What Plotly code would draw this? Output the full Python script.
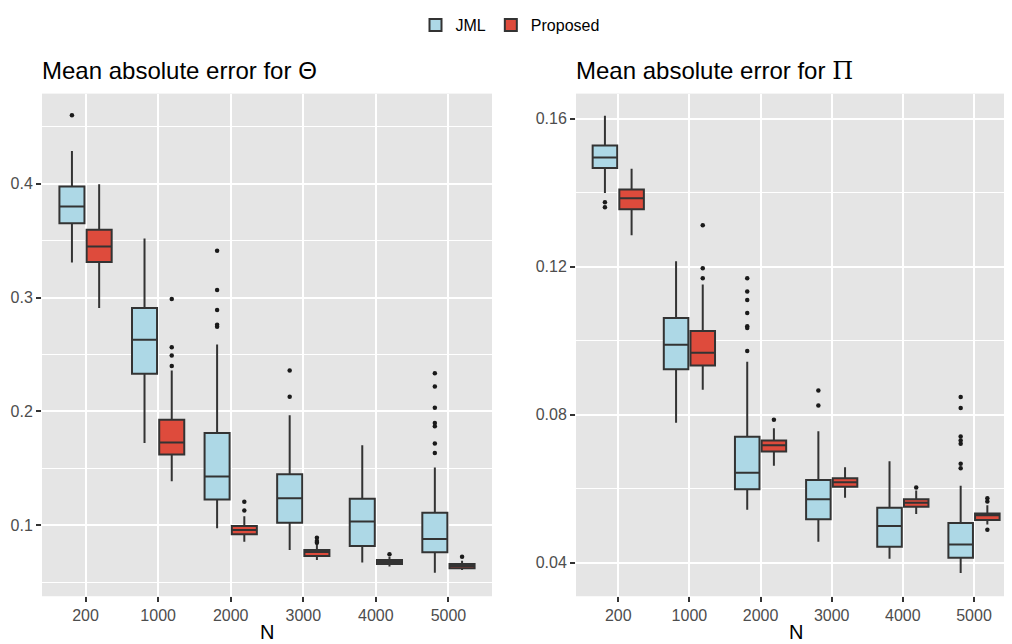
import plotly.graph_objects as go

categories = ["200", "1000", "2000", "3000", "4000", "5000"]
series_names = ["JML", "Proposed"]

# ---- Mean absolute error for Theta ----
theta_jml_q1 = [0.3653, 0.2331, 0.1228, 0.1024, 0.0819, 0.0763]
theta_jml_med = [0.3800, 0.2629, 0.1429, 0.1237, 0.1035, 0.0880]
theta_jml_q3 = [0.3974, 0.2909, 0.1811, 0.1449, 0.1233, 0.1110]
theta_jml_lo = [0.3308, 0.1723, 0.0974, 0.0784, 0.0673, 0.0585]
theta_jml_hi = [0.4286, 0.3518, 0.2588, 0.1966, 0.1703, 0.1508]
theta_jml_out = [[0.460], [], [0.341, 0.3066, 0.2891, 0.2760, 0.2743],
                 [0.236, 0.213], [], [0.2336, 0.2220, 0.2033, 0.1898, 0.1870, 0.1718, 0.1636]]

theta_prop_q1 = [0.3312, 0.1622, 0.0921, 0.0732, 0.0661, 0.0624]
theta_prop_med = [0.3448, 0.1727, 0.0959, 0.0767, 0.0679, 0.0644]
theta_prop_q3 = [0.3595, 0.1928, 0.0994, 0.0784, 0.0696, 0.0661]
theta_prop_lo = [0.2909, 0.1388, 0.0856, 0.0696, 0.0638, 0.0609]
theta_prop_hi = [0.3994, 0.2360, 0.1081, 0.0843, 0.0725, 0.0690]
theta_prop_out = [[], [0.2988, 0.2564, 0.2491, 0.2398], [0.1207, 0.1131],
                  [0.0891, 0.0862, 0.0848], [0.0746], [0.0725]]

# ---- Mean absolute error for Pi ----
pi_jml_q1 = [0.1467, 0.0923, 0.0598, 0.0517, 0.0443, 0.0413]
pi_jml_med = [0.1495, 0.0989, 0.0643, 0.0571, 0.0499, 0.0449]
pi_jml_q3 = [0.1528, 0.1061, 0.0740, 0.0623, 0.0548, 0.0507]
pi_jml_lo = [0.1399, 0.0778, 0.0543, 0.0456, 0.0410, 0.0372]
pi_jml_hi = [0.1608, 0.1215, 0.0943, 0.0755, 0.0674, 0.0608]
pi_jml_out = [[0.1374, 0.1361], [], [0.1169, 0.1133, 0.1110, 0.1075, 0.1039, 0.1034, 0.0972],
              [0.0865, 0.0825], [], [0.0848, 0.0818, 0.0741, 0.0730, 0.0721, 0.0667, 0.0655]]

pi_prop_q1 = [0.1355, 0.0933, 0.0700, 0.0605, 0.0551, 0.0515]
pi_prop_med = [0.1385, 0.0967, 0.0717, 0.0617, 0.0562, 0.0528]
pi_prop_q3 = [0.1409, 0.1026, 0.0730, 0.0628, 0.0571, 0.0533]
pi_prop_lo = [0.1285, 0.0867, 0.0662, 0.0575, 0.0531, 0.0503]
pi_prop_hi = [0.1465, 0.1152, 0.0763, 0.0658, 0.0595, 0.0555]
pi_prop_out = [[], [0.1312, 0.1196, 0.1169], [0.0786], [], [0.0603], [0.0574, 0.0565, 0.0489]]

theta_ticks = [0.1, 0.2, 0.3, 0.4]
pi_ticks = [0.04, 0.08, 0.12, 0.16]

fills = {"JML": "#ADD8E6", "Proposed": "#DE4B3C"}

# page body has an 8px margin; the figure fills the rest of the 1012x644 window
OFF = 8
W, H = 1012 - OFF, 644 - OFF
FONT = "Liberation Sans, Arial, sans-serif"


def px(x):
    return (x - OFF) / W


def py(y):
    return 1 - (y - OFF) / H


fig = go.Figure()

panels = [
    ("x", "y", {"JML": (theta_jml_q1, theta_jml_med, theta_jml_q3, theta_jml_lo, theta_jml_hi, theta_jml_out),
                "Proposed": (theta_prop_q1, theta_prop_med, theta_prop_q3, theta_prop_lo, theta_prop_hi, theta_prop_out)}, True),
    ("x2", "y2", {"JML": (pi_jml_q1, pi_jml_med, pi_jml_q3, pi_jml_lo, pi_jml_hi, pi_jml_out),
                  "Proposed": (pi_prop_q1, pi_prop_med, pi_prop_q3, pi_prop_lo, pi_prop_hi, pi_prop_out)}, False),
]

for xa, ya, data, legend in panels:
    for name in series_names:
        q1, med, q3, lo, hi, out = data[name]
        fig.add_trace(go.Box(
            x=categories, q1=q1, median=med, q3=q3, lowerfence=lo, upperfence=hi,
            name=name, legendgroup=name, showlegend=legend,
            offsetgroup=name, alignmentgroup="a" + xa,
            fillcolor=fills[name], line=dict(color="#333333", width=2),
            whiskerwidth=0, boxpoints=False, xaxis=xa, yaxis=ya, hoverinfo="skip",
        ))
    for name in series_names:
        out = data[name][5]
        ox, oy = [], []
        for c, vals in zip(categories, out):
            for v in vals:
                ox.append(c)
                oy.append(v)
        fig.add_trace(go.Scatter(
            x=ox, y=oy, mode="markers", name=name, legendgroup=name, showlegend=False,
            offsetgroup=name, alignmentgroup="a" + xa,
            marker=dict(color="#1a1a1a", size=4.5), xaxis=xa, yaxis=ya, hoverinfo="skip",
        ))

ydom = [py(596), py(91)]
axis_common = dict(
    showgrid=True, gridcolor="white", gridwidth=2, zeroline=False, showline=False,
    ticks="outside", ticklen=5, tickwidth=1.5, tickcolor="#333333",
    tickfont=dict(family=FONT, size=16, color="#4D4D4D"), automargin=False,
)

fig.update_layout(
    width=W, height=H,
    margin=dict(l=0, r=0, t=0, b=0),
    paper_bgcolor="white", plot_bgcolor="#E5E5E5",
    boxmode="group", boxgap=0.25, boxgroupgap=0.08,
    scattermode="group", scattergap=0.25,
    font=dict(family=FONT, color="black"),
    legend=dict(orientation="h", x=px(510), xanchor="center", y=py(5), yanchor="top",
                font=dict(family=FONT, size=16, color="black"), bgcolor="rgba(0,0,0,0)",
                itemwidth=30, tracegroupgap=0),
    xaxis=dict(domain=[px(42), px(492)], type="category", categoryorder="array",
               categoryarray=categories, range=[-0.6, 5.6], **axis_common),
    yaxis=dict(domain=ydom, range=[0.0378, 0.479], tickvals=theta_ticks,
               tickformat=".1f",
               minor=dict(dtick=0.05, tick0=0, showgrid=True, gridcolor="white", gridwidth=1, ticks=""),
               **axis_common),
    xaxis2=dict(domain=[px(576), 1.0], type="category", categoryorder="array",
                categoryarray=categories, range=[-0.594, 5.534], anchor="y2", **axis_common),
    yaxis2=dict(domain=ydom, range=[0.0309, 0.1668], tickvals=pi_ticks, anchor="x2",
                tickformat=".2f",
                minor=dict(dtick=0.02, tick0=0, showgrid=True, gridcolor="white", gridwidth=1, ticks=""),
                **axis_common),
    annotations=[
        dict(text="Mean absolute error for Θ", xref="paper", yref="paper", x=px(40), y=py(68),
             xanchor="left", yanchor="middle", showarrow=False, font=dict(family=FONT, size=24, color="black")),
        dict(text="Mean absolute error for <span style=\"font-family:'DejaVu Serif', 'Liberation Serif', serif\">Π</span>",
             xref="paper", yref="paper", x=px(574), y=py(68),
             xanchor="left", yanchor="middle", showarrow=False, font=dict(family=FONT, size=24, color="black")),
        dict(text="N", xref="paper", yref="paper", x=px((42 + 492) / 2), y=py(632),
             xanchor="center", yanchor="middle", showarrow=False, font=dict(family=FONT, size=20, color="black")),
        dict(text="N", xref="paper", yref="paper", x=px(796), y=py(632),
             xanchor="center", yanchor="middle", showarrow=False, font=dict(family=FONT, size=20, color="black")),
    ],
)

fig.write_html("out.html")
